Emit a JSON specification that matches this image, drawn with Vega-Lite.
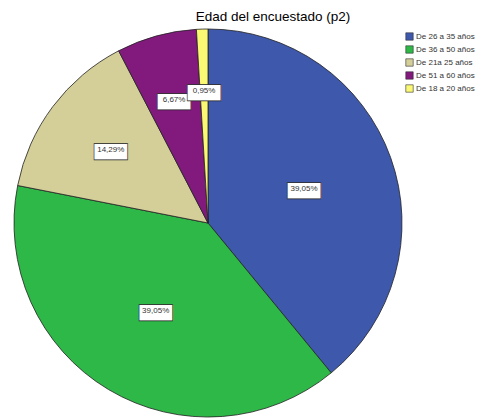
{
  "$schema": "https://vega.github.io/schema/vega-lite/v6.json",
  "autosize": "none",
  "width": 416,
  "height": 386,
  "padding": {"left": 0, "top": 30, "right": 71, "bottom": 3},
  "background": "white",
  "title": {"text": "Edad del encuestado (p2)", "anchor": "middle", "dx": 65, "offset": 4, "fontSize": 13.5, "fontWeight": "normal", "font": "Liberation Sans", "color": "#000"},
  "data": {"values": [
    {"edad": "De 26 a 35 años", "n": 41, "i": 1, "etiqueta": "39,05%"},
    {"edad": "De 36 a 50 años", "n": 41, "i": 2, "etiqueta": "39,05%"},
    {"edad": "De 21a 25 años", "n": 15, "i": 3, "etiqueta": "14,29%"},
    {"edad": "De 51 a 60 años", "n": 7, "i": 4, "etiqueta": "6,67%"},
    {"edad": "De 18 a 20 años", "n": 1, "i": 5, "etiqueta": "0,95%"}
  ]},
  "encoding": {
    "theta": {"field": "n", "type": "quantitative", "stack": true},
    "order": {"field": "i", "type": "quantitative"}
  },
  "layer": [
    {
      "mark": {"type": "arc", "outerRadius": 194, "stroke": "#222", "strokeWidth": 0.8},
      "encoding": {
        "color": {"field": "edad", "type": "nominal",
          "scale": {"domain": ["De 26 a 35 años", "De 36 a 50 años", "De 21a 25 años", "De 51 a 60 años", "De 18 a 20 años"],
                    "range": ["#3E58AC", "#2EB848", "#D4CE99", "#821A7D", "#FBF873"]},
          "legend": {"title": null, "orient": "none", "legendX": 405, "legendY": 2, "symbolType": "square", "symbolSize": 55, "symbolStrokeColor": "#333", "symbolStrokeWidth": 0.6, "labelFontSize": 8, "labelFont": "Liberation Sans", "labelColor": "#333", "rowPadding": 2, "labelOffset": 2, "symbolOffset": 0, "padding": 0}
        }
      }
    },
    {
      "mark": {"type": "text", "text": "▬", "fontSize": 44, "fill": "white", "stroke": "#222", "strokeWidth": 0.6, "font": "DejaVu Sans", "baseline": "middle"},
      "encoding": {"radius": {"field": "n", "type": "quantitative", "scale": {"type": "linear", "domain": [1, 41], "range": [132, 102], "zero": false}, "legend": null}}
    },
    {
      "mark": {"type": "text", "fontSize": 8, "font": "Liberation Sans", "color": "#333", "baseline": "middle"},
      "encoding": {
        "radius": {"field": "n", "type": "quantitative", "scale": {"type": "linear", "domain": [1, 41], "range": [132, 102], "zero": false}, "legend": null},
        "text": {"field": "etiqueta"}
      }
    }
  ]
}
